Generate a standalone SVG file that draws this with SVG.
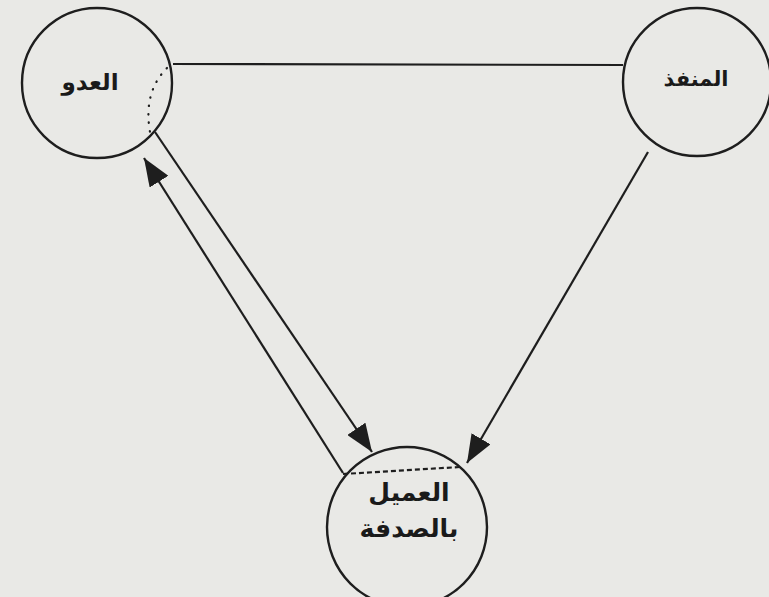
<svg xmlns="http://www.w3.org/2000/svg" width="769" height="597" viewBox="0 0 769 597">
<style>
.node{fill:none;stroke:#1e1e1e;stroke-width:2.4}
.edge{stroke:#1e1e1e;stroke-width:2.2;fill:none}
.lbl{font-family:"DejaVu Sans",sans-serif;font-weight:bold;font-size:23px;fill:#1a1a1a;text-anchor:middle}
</style>
<defs>
<marker id="ah" viewBox="0 0 28 22" refX="28" refY="11" markerWidth="28" markerHeight="22" markerUnits="userSpaceOnUse" orient="auto">
<path d="M0,0 L28,11 L0,22 z" fill="#1e1e1e"/>
</marker>
</defs>
<rect width="769" height="597" fill="#e9e9e6"/>
<g id="connectors">
<line class="edge" x1="173" y1="64" x2="623" y2="65"/>
<path class="edge" d="M167,68 Q143,92 150,132" stroke-dasharray="0.5 8" stroke-linecap="round" stroke-width="2.6"/>
<line class="edge" x1="155" y1="132" x2="372" y2="452" marker-end="url(#ah)"/>
<line class="edge" x1="343" y1="473" x2="144" y2="158" marker-end="url(#ah)"/>
<line class="edge" x1="648" y1="152" x2="467" y2="463" marker-end="url(#ah)"/>
<line class="edge" x1="343" y1="474" x2="460" y2="467" stroke-dasharray="5 3" stroke-width="1.6"/>
</g>
<g id="enemy">
<circle class="node" cx="97" cy="83" r="75"/>
<text class="lbl" x="90" y="90">العدو</text>
</g>
<g id="agent">
<circle class="node" cx="697" cy="82" r="74"/>
<text class="lbl" x="696" y="86" style="font-size:21px">المنفذ</text>
</g>
<g id="client">
<circle class="node" cx="407" cy="527" r="80"/>
<text class="lbl" x="409" y="501" style="font-size:25px">العميل</text>
<text class="lbl" x="409" y="537" style="font-size:25px">بالصدفة</text>
</g>
</svg>
